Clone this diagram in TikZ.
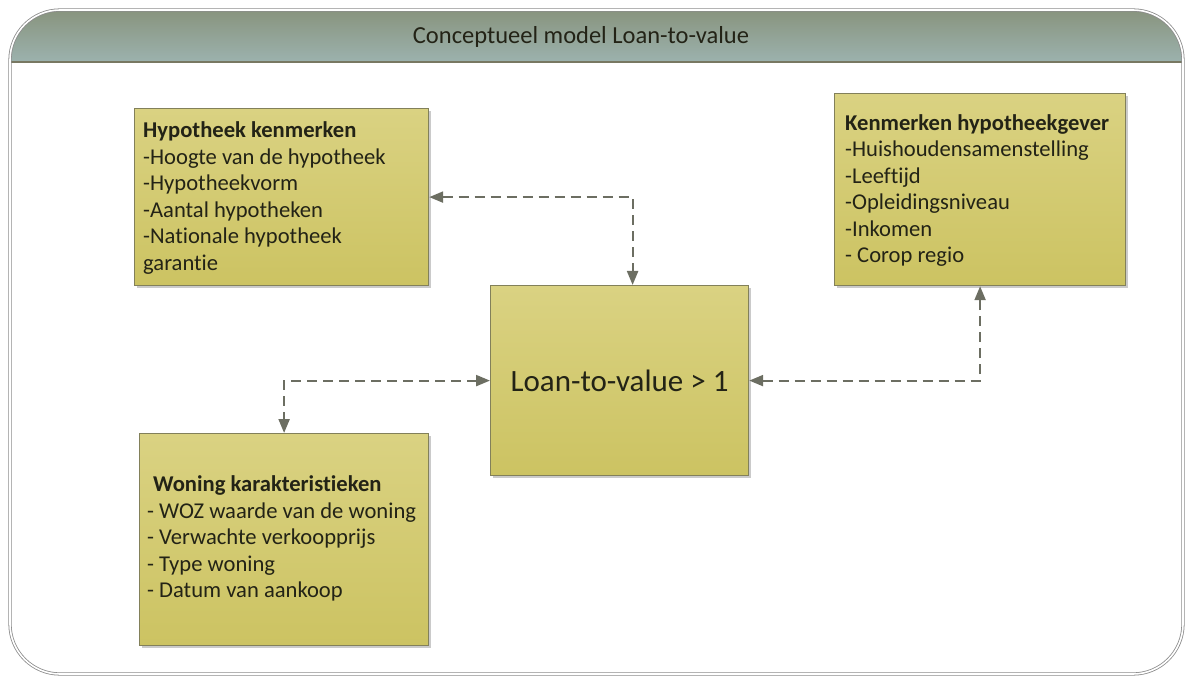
\documentclass[tikz,border=0pt]{standalone}
\usepackage{fontspec}
\setmainfont{Carlito}[Ligatures=NoCommon]
\usetikzlibrary{arrows.meta,shadows}

\definecolor{boxtop}{RGB}{218,210,130}
\definecolor{boxbot}{RGB}{204,195,98}
\definecolor{boxline}{RGB}{130,128,90}
\definecolor{hdrtop}{RGB}{136,148,126}
\definecolor{hdrbot}{RGB}{156,178,174}
\definecolor{hdrline}{RGB}{120,120,98}
\definecolor{framecol}{RGB}{140,140,140}
\definecolor{conncol}{RGB}{108,110,98}
\definecolor{txt}{RGB}{35,35,22}

\tikzset{
  infobox/.style={draw=boxline, line width=1.2pt, top color=boxtop, bottom color=boxbot,
    drop shadow={shadow xshift=2.5pt, shadow yshift=-2.5pt, opacity=0.35, fill=black!60},
    anchor=north west, inner sep=0pt},
  boxtext/.style={anchor=west, align=left, text=txt, inner sep=0pt,
    font=\fontsize{22.6}{26.5}\selectfont},
  conn/.style={draw=conncol, line width=2.2pt, dash pattern=on 10pt off 6pt,
    {Triangle[length=14pt,width=11pt]}-{Triangle[length=14pt,width=11pt]}},
}

\begin{document}
\begin{tikzpicture}[x=1pt,y=-1pt]
\useasboundingbox (0,0) rectangle (1186,676);

% header band with rounded top corners
\fill[top color=hdrtop, bottom color=hdrbot]
  (10,62) -- (10,60) arc(180:270:50) -- (1133,10) arc(270:360:50) -- (1183,62) -- cycle;
\draw[hdrline, line width=1.6pt] (10,62) -- (1183,62);

% outer frame
\draw[framecol, line width=0.8pt, double=white, double distance=1.6pt]
  (10,60) arc(180:270:50) -- (1133,10) arc(270:360:50) -- (1183,624) arc(0:90:50)
  -- (60,674) arc(90:180:50) -- cycle;

\node[text=txt, font=\fontsize{24.5}{28}\selectfont] (title) at (581,37)
  {Conceptueel model Loan-to-value};

% boxes
\node[infobox, minimum width=294pt, minimum height=177pt] (hyp) at (134,108) {};
\node[boxtext] (hyptxt) at ([xshift=9pt,yshift=-1pt]hyp.west)
  {\textbf{Hypotheek kenmerken}\\-Hoogte van de hypotheek\\-Hypotheekvorm\\-Aantal hypotheken\\-Nationale hypotheek\\garantie};

\node[infobox, minimum width=291pt, minimum height=192pt] (hg) at (834,93) {};
\node[boxtext] (hgtxt) at ([xshift=11pt,yshift=-1pt]hg.west)
  {\textbf{Kenmerken hypotheekgever}\\-Huishoudensamenstelling\\-Leeftijd\\-Opleidingsniveau\\-Inkomen\\- Corop regio};

\node[infobox, minimum width=289pt, minimum height=212pt] (won) at (139,433) {};
\node[boxtext] (wontxt) at ([xshift=8pt,yshift=1pt]won.west)
  {\hspace*{6pt}\textbf{Woning karakteristieken}\\- WOZ waarde van de woning\\- Verwachte verkoopprijs\\- Type woning\\- Datum van aankoop};

\node[infobox, minimum width=258pt, minimum height=190pt] (ltv) at (490,285) {};
\node[text=txt, inner sep=0pt, font=\fontsize{31}{36}\selectfont] (ltvtxt) at (ltv.center)
  {Loan-to-value > 1};

% connectors
\draw[conn] (hyp.east) -| ([xshift=13pt]ltv.north);
\draw[conn] (ltv.east) -| (hg.south);
\draw[conn] (ltv.west) -| (won.north);
\end{tikzpicture}
\end{document}
